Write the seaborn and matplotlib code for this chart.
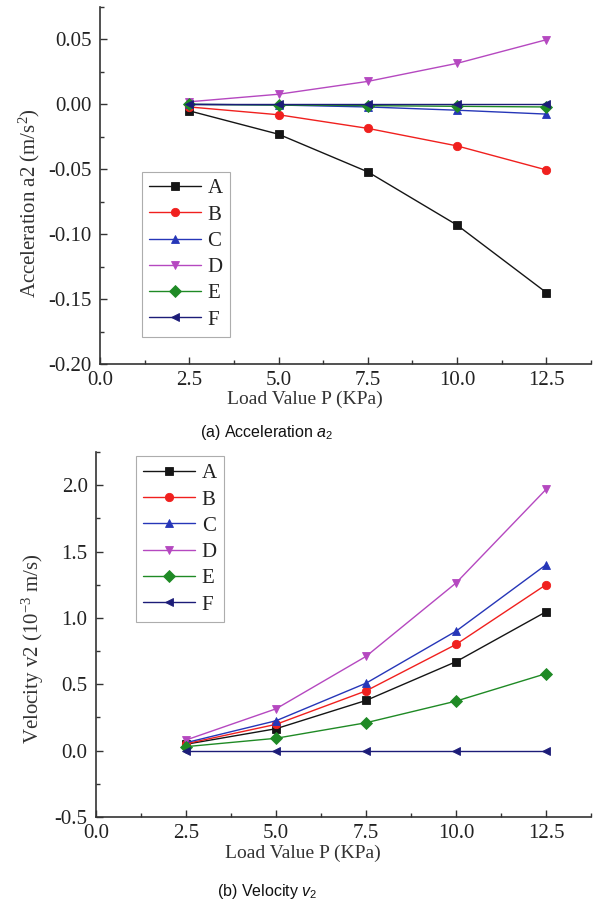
import numpy as np
import pandas as pd
import seaborn as sns
import matplotlib
matplotlib.use("Agg")
import matplotlib.pyplot as plt

# ---- data ----
load = [2.5, 5.0, 7.5, 10.0, 12.5]
series = ["A", "B", "C", "D", "E", "F"]

acc_A = [-0.005, -0.023, -0.052, -0.093, -0.145]
acc_B = [-0.002, -0.008, -0.0185, -0.032, -0.0505]
acc_C = [0.000, -0.0005, -0.002, -0.0045, -0.0075]
acc_D = [0.002, 0.0078, 0.0177, 0.0316, 0.0498]
acc_E = [0.000, -0.0005, -0.001, -0.0015, -0.002]
acc_F = [0.000, 0.000, 0.000, 0.000, 0.000]

vel_A = [0.048, 0.165, 0.378, 0.670, 1.046]
vel_B = [0.052, 0.198, 0.450, 0.800, 1.250]
vel_C = [0.060, 0.225, 0.508, 0.900, 1.400]
vel_D = [0.080, 0.315, 0.710, 1.263, 1.968]
vel_E = [0.030, 0.093, 0.210, 0.373, 0.580]
vel_F = [0.000, 0.000, 0.000, 0.000, 0.000]

acc_vals = [acc_A, acc_B, acc_C, acc_D, acc_E, acc_F]
vel_vals = [vel_A, vel_B, vel_C, vel_D, vel_E, vel_F]

x_ticks = [0.0, 2.5, 5.0, 7.5, 10.0, 12.5]
acc_ticks = [-0.20, -0.15, -0.10, -0.05, 0.00, 0.05]
vel_ticks = [-0.5, 0.0, 0.5, 1.0, 1.5, 2.0]

colors = {"A": "#151515", "B": "#f0201e", "C": "#2636b8",
          "D": "#b548c0", "E": "#1f8a25", "F": "#1c1c78"}
markers = {"A": "s", "B": "o", "C": "^", "D": "v", "E": "D", "F": "<"}


def long_df(vals):
    rows = []
    for s, v in zip(series, vals):
        for x, y in zip(load, v):
            rows.append({"P": x, "val": y, "series": s})
    return pd.DataFrame(rows)


sns.set_theme(style="ticks")
plt.rcParams["font.family"] = ["Liberation Serif", "DejaVu Serif"]
plt.rcParams["mathtext.fontset"] = "custom"
plt.rcParams["mathtext.rm"] = "Liberation Serif"
plt.rcParams["mathtext.it"] = "Liberation Sans:italic"
plt.rcParams["mathtext.sf"] = "Liberation Sans"
plt.rcParams["axes.edgecolor"] = "#333333"

fig = plt.figure(figsize=(6.01, 9.05), dpi=100)
W, H = 601, 905
ax1 = fig.add_axes([100 / W, 1 - 364 / H, 491 / W, 357 / H])
ax2 = fig.add_axes([96 / W, 1 - 817 / H, 495 / W, 365 / H])


def draw(ax, vals, ylim, yticks, ylabel, leg_loc, leg_anchor, xlab_x, ylab_xy):
    df = long_df(vals)
    sns.lineplot(data=df, x="P", y="val", hue="series", style="series",
                 palette=colors, markers=markers, dashes=False,
                 linewidth=1.0, markersize=6, markeredgewidth=0.6,
                 ax=ax)
    for line in ax.get_lines():
        line.set_markeredgecolor(line.get_color())
    ax.set_xlim(0, 13.75)
    ax.set_ylim(*ylim)
    ax.set_xticks(x_ticks)
    ax.set_xticklabels([f"{t:.1f}" for t in x_ticks])
    ax.set_yticks(yticks)
    fmt = "{:.2f}" if abs(yticks[1] - yticks[0]) < 0.1 else "{:.1f}"
    ax.set_yticklabels([fmt.format(t) for t in yticks])
    ax.set_xticks(np.arange(0, 13.76, 1.25), minor=True)
    dy = (yticks[1] - yticks[0]) / 2
    ax.set_yticks(np.arange(ylim[0], ylim[1] + 1e-9, dy), minor=True)
    ax.tick_params(which="both", direction="in", colors="#333333",
                   labelcolor="#222222", width=1.0)
    ax.tick_params(which="major", length=5, labelsize=15)
    ax.tick_params(axis="x", which="major", pad=5)
    ax.tick_params(axis="y", which="major", pad=6)
    ax.tick_params(which="minor", length=3)
    for sp in ["top", "right"]:
        ax.spines[sp].set_visible(False)
    for sp in ["left", "bottom"]:
        ax.spines[sp].set_linewidth(1.2)
    ax.set_xlabel("Load Value P (KPa)", fontsize=14, color="#333333", labelpad=0)
    ax.xaxis.set_label_coords(xlab_x, -0.075)
    ax.set_ylabel(ylabel, fontsize=15, color="#333333")
    ax.yaxis.set_label_coords(*ylab_xy)
    handles, labels = ax.get_legend_handles_labels()
    leg = ax.legend(handles, labels, loc=leg_loc, bbox_to_anchor=leg_anchor,
                    borderaxespad=0, frameon=True, fancybox=False,
                    fontsize=15, handlelength=2.5, handletextpad=0.3,
                    labelspacing=0.32, borderpad=0.35, title=None)
    leg.get_frame().set_edgecolor("#999999")
    leg.get_frame().set_linewidth(0.8)
    for t in leg.get_texts():
        t.set_color("#222222")


draw(ax1, acc_vals, (-0.20, 0.075), acc_ticks,
     "Acceleration a2 (m/s$^{2}$)", "lower left", (0.0855, 0.0756), 0.4175,
     (-0.118, 0.45))
draw(ax2, vel_vals, (-0.5, 2.25), vel_ticks,
     "Velocity v2 (10$^{-3}$ m/s)", "upper left", (0.081, 0.988), 0.417,
     (-0.102, 0.46))

cap_font = ["Liberation Sans Narrow", "Liberation Sans", "DejaVu Sans"]
fig.text(267 / W, 1 - 432 / H, r"(a) Acceleration $\mathit{a}_{\mathsf{2}}$",
         ha="center", va="center", fontsize=11.5, family=cap_font, color="#111111")
fig.text(267 / W, 1 - 891 / H, r"(b) Velocity $\mathit{v}_{\mathsf{2}}$",
         ha="center", va="center", fontsize=11.5, family=cap_font, color="#111111")

fig.savefig("out.png", dpi=100)
